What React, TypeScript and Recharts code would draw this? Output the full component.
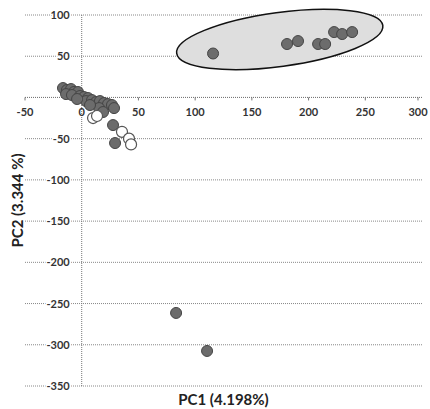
import { ScatterChart, Scatter, XAxis, YAxis, CartesianGrid, ReferenceLine } from 'recharts';

// PCA score plot
const xTicks = [-50, 0, 50, 100, 150, 200, 250, 300];
const yTicks = [100, 50, 0, -50, -100, -150, -200, -250, -300, -350];

const originCluster = [
  { x: -16.5, y: 11.4 }, { x: -13, y: 9 }, { x: -9.4, y: 10.2 }, { x: -6.8, y: 6.6 },
  { x: -3.3, y: 6.6 }, { x: -13.8, y: 4.1 }, { x: -8.6, y: 2.9 }, { x: -1.5, y: 1.7 },
  { x: 2, y: 0.5 }, { x: 5.6, y: -0.7 }, { x: 3.8, y: -4.4 }, { x: 9.1, y: -3.2 },
  { x: 12.6, y: -5.6 }, { x: 16.1, y: -4.4 }, { x: 19.7, y: -6.8 }, { x: 23.2, y: -8 },
  { x: 26.7, y: -9.2 }, { x: 28.5, y: -12.9 }, { x: 15.3, y: -12.9 }, { x: 18.8, y: -17.7 },
  { x: 7.3, y: -9.2 }, { x: -4.1, y: -1.9 },
  { x: 27.6, y: -33.5 }, { x: 29.4, y: -55.3 },
];
const whiteSamples = [
  { x: 10, y: -25 }, { x: 13.5, y: -22.5 }, { x: 35.5, y: -41.7 },
  { x: 41.7, y: -50 }, { x: 43.5, y: -57 },
];
const topCluster = [
  { x: 115.8, y: 53.3 }, { x: 181, y: 64.8 }, { x: 190.7, y: 68.4 }, { x: 208.4, y: 64.8 },
  { x: 214.6, y: 64.8 }, { x: 222.5, y: 79.3 }, { x: 229.6, y: 76.9 }, { x: 238.4, y: 79.3 },
];
const outliers = [{ x: 83.2, y: -261.4 }, { x: 110.5, y: -307.5 }];
const ellipseCentre = [{ x: 174.6, y: 70.4 }];

const W = 430;
const H = 409;
const top = 15;
const left = 25;
const plotW = 397;
const plotH = 371;
const zeroX = left + (0 - -50) / 350 * plotW;
const zeroY = top + (100 - 0) / 450 * plotH;

const font = 'Lato, "Open Sans", sans-serif';

const XTick = (props: any) => {
  const { x, payload } = props;
  return (
    <g>
      <line x1={x} x2={x} y1={zeroY} y2={zeroY + 3} stroke="#777" />
      <text x={x} y={zeroY + 19} textAnchor="middle" fontSize={11} fontWeight={700} fill="#333" fontFamily={font}>
        {payload.value}
      </text>
    </g>
  );
};

const YTick = (props: any) => {
  const { y, payload } = props;
  if (payload.value === 0) return <g />;
  return (
    <text
      x={zeroX - 12}
      y={y + 4}
      textAnchor="end"
      fontSize={11}
      fontWeight={700}
      fill="#333"
      fontFamily={font}
      stroke="#fff"
      strokeWidth={3}
      paintOrder="stroke"
    >
      {payload.value}
    </text>
  );
};

const greyDot = (p: any) => <circle cx={p.cx} cy={p.cy} r={5.5} fill="#6c6c6c" stroke="#444" strokeWidth={1} />;
const whiteDot = (p: any) => <circle cx={p.cx} cy={p.cy} r={5.5} fill="#fff" stroke="#555" strokeWidth={1.2} />;
const ellipse = (p: any) => (
  <ellipse
    cx={p.cx}
    cy={p.cy}
    rx={104}
    ry={27}
    fill="#dedede"
    stroke="#111"
    strokeWidth={1.5}
    transform={`rotate(-7.7 ${p.cx} ${p.cy})`}
  />
);

export default function App() {
  return (
    <div style={{ position: 'absolute', left: 0, top: 0, background: '#fff' }}>
      <ScatterChart width={W} height={H} margin={{ top, right: 8, left: 0, bottom: 0 }}>
        <CartesianGrid vertical={false} stroke="#888" strokeDasharray="1 1" />
        <XAxis
          type="number"
          dataKey="x"
          domain={[-50, 300]}
          ticks={xTicks}
          axisLine={false}
          tickLine={false}
          tickSize={0}
          tick={<XTick />}
          height={23}
          label={{ value: 'PC1 (4.198%)', position: 'insideBottom', offset: 4, fontSize: 15, fontWeight: 700, fill: '#222', fontFamily: font }}
        />
        <YAxis
          type="number"
          dataKey="y"
          domain={[-350, 100]}
          ticks={yTicks}
          axisLine={false}
          tickLine={false}
          tickSize={0}
          tick={<YTick />}
          width={25}
          label={{ value: 'PC2 (3.344 %)', angle: -90, position: 'insideLeft', offset: 18, fontSize: 15, fontWeight: 700, fill: '#222', fontFamily: font, style: { textAnchor: 'middle' } }}
        />
        <ReferenceLine x={0} stroke="#777" strokeDasharray="1 1" />
        <ReferenceLine y={0} stroke="#777" strokeDasharray="1 1" />
        <Scatter data={ellipseCentre} shape={ellipse} isAnimationActive={false} />
        <Scatter data={originCluster} shape={greyDot} isAnimationActive={false} />
        <Scatter data={topCluster} shape={greyDot} isAnimationActive={false} />
        <Scatter data={outliers} shape={greyDot} isAnimationActive={false} />
        <Scatter data={whiteSamples} shape={whiteDot} isAnimationActive={false} />
      </ScatterChart>
    </div>
  );
}
